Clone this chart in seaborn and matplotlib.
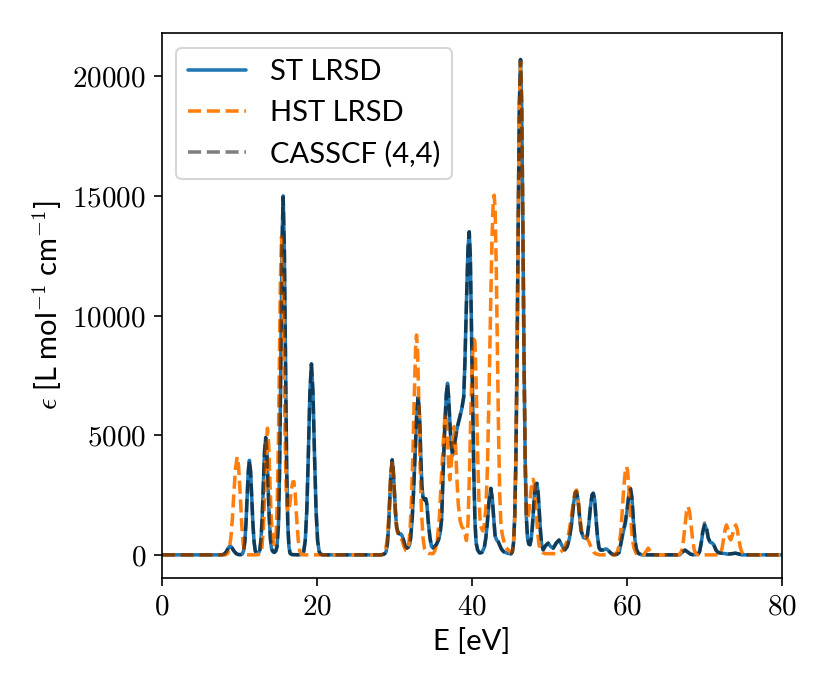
import matplotlib
matplotlib.use("Agg")
import matplotlib.pyplot as plt
from matplotlib.ticker import FuncFormatter
import seaborn as sns

# (E [eV], epsilon)
st_points = [
    (0, 0), (7.6, 0), (8.0, 20), (8.3, 120), (8.6, 300), (8.8, 370), (9.0, 320), (9.3, 160), (9.6, 50), (9.9, 10), (10.2, 10),
    (10.4, 43), (10.55, 174), (10.7, 533), (10.85, 1284), (11.0, 2398), (11.15, 3484), (11.3, 3950), (11.45, 3484), (11.6, 2398),
    (11.75, 1284), (11.9, 533), (12.05, 174), (12.2, 70), (12.35, 50),
    (12.5, 80), (12.65, 216), (12.8, 661), (12.95, 1593), (13.1, 2975), (13.25, 4322), (13.4, 4900), (13.55, 4322), (13.7, 2975),
    (13.85, 1600), (14.0, 700), (14.15, 260), (14.3, 150),
    (14.5, 100), (14.7, 160), (14.85, 330), (15.05, 1280), (15.2, 3740), (15.35, 8090), (15.5, 12860), (15.65, 15000), (15.8, 12860),
    (15.95, 8090), (16.1, 3740), (16.25, 1280), (16.4, 320), (16.55, 60), (16.8, 10),
    (17.8, 0), (18.1, 24), (18.3, 136), (18.5, 583), (18.7, 1835), (18.9, 4150), (19.1, 6775), (19.3, 7980), (19.5, 6775), (19.7, 4150),
    (19.9, 1835), (20.1, 583), (20.3, 136), (20.5, 24), (20.8, 0),
    (28.3, 0), (28.6, 20), (28.8, 60), (28.95, 150), (29.1, 470), (29.25, 1150), (29.4, 2200), (29.55, 3350), (29.72, 3970), (29.85, 3600),
    (30.0, 2700), (30.15, 1750), (30.3, 1150), (30.5, 900), (30.7, 880), (30.85, 870), (31.0, 800), (31.2, 600), (31.4, 370), (31.6, 280), (31.8, 320),
    (31.95, 400), (32.1, 700), (32.3, 1500), (32.5, 2800), (32.7, 4400), (32.9, 6000), (33.08, 6610), (33.25, 5800), (33.4, 4200), (33.55, 2900),
    (33.7, 2400), (33.9, 2300), (34.05, 2350), (34.2, 2100), (34.4, 1300), (34.6, 700), (34.8, 350), (35.0, 290),
    (35.2, 350), (35.4, 420), (35.7, 630), (35.9, 900), (36.1, 1500), (36.3, 3500), (36.5, 5300), (36.7, 6700), (36.86, 7170), (37.0, 6600),
    (37.2, 5300), (37.35, 4500), (37.5, 4150), (37.7, 4500), (37.9, 4950), (38.1, 5300), (38.4, 5700), (38.7, 6100), (38.95, 6600), (39.1, 8000),
    (39.3, 10500), (39.5, 12800), (39.66, 13500), (39.8, 12500), (39.95, 9500), (40.1, 6500), (40.25, 3500), (40.4, 1400), (40.55, 500), (40.75, 200), (41.0, 80),
    (41.3, 100), (41.6, 300), (41.8, 700), (42.0, 1350), (42.2, 2200), (42.45, 2780), (42.65, 2300), (42.85, 1400), (43.0, 800), (43.2, 620),
    (43.4, 550), (43.6, 400), (43.8, 250), (44.1, 130), (44.5, 80),
    (44.8, 50), (45.08, 50), (45.23, 125), (45.38, 500), (45.53, 1580), (45.68, 3970), (45.83, 8220), (45.98, 13770), (46.13, 18760), (46.28, 20700),
    (46.43, 18760), (46.58, 13770), (46.73, 8220), (46.88, 3970), (47.03, 1600), (47.18, 700), (47.35, 450), (47.5, 420),
    (47.65, 650), (47.8, 1150), (47.95, 1900), (48.1, 2600), (48.25, 2950), (48.4, 2990), (48.55, 2600), (48.7, 1800), (48.85, 1000), (49.0, 450), (49.2, 210),
    (49.5, 380), (49.85, 490), (50.15, 350), (50.5, 280), (50.9, 500), (51.25, 620), (51.6, 400), (52.0, 210),
    (52.3, 350), (52.6, 700), (52.9, 1400), (53.15, 2200), (53.35, 2600), (53.5, 2645), (53.7, 2300), (53.9, 1600), (54.1, 1000), (54.4, 720), (54.7, 700),
    (54.9, 800), (55.1, 1300), (55.3, 2000), (55.5, 2500), (55.66, 2575), (55.85, 2300), (56.0, 1600), (56.2, 800), (56.4, 300), (56.6, 200),
    (56.9, 200), (57.2, 240), (57.4, 240), (57.7, 150), (58.0, 50), (58.3, 10), (58.7, 20),
    (59.0, 100), (59.2, 400), (59.5, 900), (59.8, 1300), (60.05, 1900), (60.25, 2500), (60.47, 2780), (60.65, 2400), (60.85, 1400), (61.05, 600),
    (61.25, 210), (61.5, 60), (61.9, 0),
    (66.8, 0), (67.2, 120), (67.5, 200), (67.8, 130), (68.2, 30), (68.6, 0),
    (69.2, 20), (69.4, 150), (69.6, 500), (69.8, 950), (70.06, 1250), (70.3, 1050), (70.5, 700), (70.75, 520), (71.0, 500), (71.2, 430),
    (71.5, 200), (71.8, 90), (72.0, 80), (72.5, 60), (73.0, 30), (73.6, 50), (74.0, 70), (74.4, 40), (74.8, 0), (80, 0),
]

hst_points = [
    (0, 0), (8.2, 0), (8.5, 60), (8.7, 250), (8.9, 700), (9.1, 1500), (9.3, 2600), (9.5, 3600), (9.72, 4100), (9.9, 3700), (10.1, 2600),
    (10.3, 1300), (10.5, 450), (10.7, 120), (10.9, 20), (11.2, 0), (12.3, 0),
    (12.7, 45), (12.9, 270), (13.1, 1100), (13.3, 2900), (13.45, 4400), (13.63, 5290), (13.8, 4500), (13.95, 3000), (14.1, 1600), (14.3, 700),
    (14.45, 450), (14.58, 420),
    (14.75, 900), (14.9, 2300), (15.05, 5000), (15.2, 8800), (15.3, 11500), (15.44, 13290), (15.6, 11800), (15.75, 8500), (15.9, 5000),
    (16.05, 2700), (16.2, 1900), (16.35, 1800), (16.5, 2100), (16.7, 2700), (16.9, 3050), (17.03, 3060), (17.2, 2600), (17.4, 1500),
    (17.6, 600), (17.8, 150), (18.0, 20), (18.3, 0),
    (28.3, 0), (28.7, 60), (28.9, 250), (29.1, 700), (29.3, 1700), (29.5, 3100), (29.72, 3950), (29.9, 3300), (30.1, 2000), (30.3, 1100),
    (30.5, 850), (30.7, 800), (30.9, 700), (31.1, 500), (31.3, 300), (31.5, 180), (31.66, 170),
    (31.8, 300), (32.0, 900), (32.2, 2200), (32.4, 4300), (32.6, 7000), (32.75, 8700), (32.86, 9185), (33.0, 8500), (33.15, 6500), (33.3, 4000),
    (33.5, 1800), (33.7, 700), (33.9, 250), (34.1, 100), (34.37, 60), (35.0, 50),
    (35.2, 150), (35.5, 500), (35.8, 1500), (36.0, 2800), (36.3, 4600), (36.5, 5700), (36.65, 5900), (36.85, 5000), (37.0, 3800), (37.16, 3130),
    (37.35, 3800), (37.55, 5000), (37.72, 5360), (37.9, 4600), (38.1, 3000), (38.25, 2100), (38.5, 1400), (38.7, 1180), (38.9, 1100),
    (39.1, 900), (39.3, 600), (39.5, 1300), (39.7, 3500), (39.9, 6400), (40.1, 8400), (40.3, 9000), (40.4, 8900), (40.55, 7200), (40.75, 4200),
    (40.9, 2400), (41.05, 1500), (41.2, 1150), (41.4, 1000), (41.6, 1250),
    (41.8, 1900), (42.0, 3500), (42.2, 6500), (42.4, 10000), (42.6, 13200), (42.75, 14700), (42.88, 15030), (43.0, 14500), (43.15, 12000),
    (43.3, 8500), (43.45, 5000), (43.6, 2500), (43.75, 1300), (43.9, 900), (44.1, 600), (44.4, 300), (44.69, 200),
    (44.9, 150), (45.08, 100), (45.23, 150), (45.38, 500), (45.53, 1580), (45.68, 3970), (45.83, 8220), (45.98, 13770), (46.13, 18760),
    (46.28, 20600), (46.43, 18760), (46.58, 13770), (46.73, 8220), (46.88, 3970),
    (47.03, 1800), (47.2, 1500), (47.4, 1900), (47.6, 2600), (47.8, 3100), (47.91, 3160), (48.05, 3000), (48.25, 2200), (48.45, 1100),
    (48.65, 450), (48.85, 200), (49.1, 100), (49.5, 50), (51.0, 50), (51.8, 200),
    (52.2, 500), (52.5, 900), (52.8, 1500), (53.1, 2200), (53.3, 2600), (53.5, 2710), (53.7, 2350), (53.9, 1700), (54.1, 1100), (54.35, 800),
    (54.6, 770), (54.85, 700), (55.1, 550), (55.4, 300), (55.7, 120), (56.0, 40), (56.5, 0), (58.5, 0),
    (58.8, 150), (59.0, 400), (59.2, 900), (59.4, 1800), (59.6, 2800), (59.8, 3500), (59.96, 3690), (60.1, 3500), (60.3, 2600), (60.5, 1500),
    (60.7, 700), (60.9, 300), (61.2, 60), (61.6, 0), (62.2, 0), (62.5, 150), (62.75, 280), (63.0, 150), (63.3, 20), (63.6, 0), (66.6, 0),
    (66.9, 50), (67.1, 200), (67.3, 600), (67.5, 1200), (67.7, 1800), (67.9, 2020), (68.1, 1800), (68.3, 1200), (68.5, 600), (68.7, 200),
    (68.9, 60), (69.2, 0), (71.9, 0),
    (72.1, 80), (72.3, 300), (72.5, 700), (72.7, 1100), (72.86, 1250), (73.05, 1050), (73.25, 700), (73.4, 626), (73.6, 800), (73.85, 1150),
    (74.06, 1250), (74.25, 1050), (74.45, 650), (74.65, 300), (74.85, 100), (75.1, 20), (75.4, 0), (80, 0),
]

cas_points = [
    (0, 0), (7.6, 0), (8.0, 20), (8.3, 120), (8.6, 300), (8.8, 380), (9.0, 320), (9.3, 160), (9.6, 50), (9.9, 10), (10.2, 10),
    (10.4, 43), (10.55, 174), (10.7, 533), (10.85, 1284), (11.0, 2398), (11.15, 3484), (11.3, 3950), (11.45, 3484), (11.6, 2398),
    (11.75, 1284), (11.9, 533), (12.05, 174), (12.2, 70), (12.35, 50),
    (12.5, 80), (12.65, 216), (12.8, 661), (12.95, 1593), (13.1, 2975), (13.25, 4322), (13.4, 4900), (13.55, 4322), (13.7, 2975),
    (13.85, 1600), (14.0, 700), (14.15, 260), (14.3, 150),
    (14.5, 100), (14.7, 160), (14.85, 330), (15.05, 1280), (15.2, 3740), (15.35, 8090), (15.5, 12860), (15.65, 14950), (15.8, 12860),
    (15.95, 8090), (16.1, 3740), (16.25, 1280), (16.4, 320), (16.55, 60), (16.8, 10),
    (17.8, 0), (18.1, 24), (18.3, 136), (18.5, 583), (18.7, 1835), (18.9, 4150), (19.1, 6775), (19.3, 7980), (19.5, 6775), (19.7, 4150),
    (19.9, 1835), (20.1, 583), (20.3, 136), (20.5, 24), (20.8, 0),
    (28.3, 0), (28.6, 20), (28.8, 60), (28.95, 150), (29.1, 470), (29.25, 1150), (29.4, 2200), (29.55, 3350), (29.72, 3970), (29.85, 3600),
    (30.0, 2700), (30.15, 1750), (30.3, 1150), (30.5, 900), (30.7, 880), (30.85, 870), (31.0, 800), (31.2, 600), (31.4, 370), (31.6, 280), (31.8, 320),
    (31.95, 400), (32.1, 700), (32.3, 1500), (32.5, 2800), (32.7, 4400), (32.9, 6000), (33.08, 6610), (33.25, 5800), (33.4, 4200), (33.55, 2900),
    (33.7, 2400), (33.9, 2300), (34.05, 2350), (34.2, 2100), (34.4, 1300), (34.6, 700), (34.8, 350), (35.0, 290),
    (35.2, 350), (35.4, 420), (35.7, 630), (35.9, 900), (36.1, 1500), (36.3, 3500), (36.5, 5300), (36.7, 6700), (36.86, 7170), (37.0, 6600),
    (37.2, 5300), (37.35, 4600), (37.5, 4300), (37.7, 4500), (37.9, 4850), (38.1, 5300), (38.4, 5700), (38.7, 6100), (38.95, 6600), (39.1, 8000),
    (39.3, 10500), (39.5, 12800), (39.66, 13500), (39.8, 12500), (39.95, 9500), (40.1, 6500), (40.25, 3500), (40.4, 1400), (40.55, 500), (40.75, 200), (41.0, 80),
    (41.3, 100), (41.6, 300), (41.8, 700), (42.0, 1350), (42.2, 2200), (42.45, 2780), (42.65, 2300), (42.85, 1400), (43.0, 800), (43.2, 620),
    (43.4, 550), (43.6, 400), (43.8, 250), (44.1, 130), (44.5, 80),
    (44.8, 50), (45.08, 50), (45.23, 125), (45.38, 500), (45.53, 1580), (45.68, 3970), (45.83, 8220), (45.98, 13770), (46.13, 18760), (46.28, 20700),
    (46.43, 18760), (46.58, 13770), (46.73, 8220), (46.88, 3970), (47.03, 1600), (47.18, 700), (47.35, 450), (47.5, 420),
    (47.65, 650), (47.8, 1150), (47.95, 1900), (48.1, 2600), (48.25, 2950), (48.4, 2990), (48.55, 2600), (48.7, 1800), (48.85, 1000), (49.0, 450), (49.2, 210),
    (49.5, 380), (49.85, 490), (50.15, 350), (50.5, 280), (50.9, 500), (51.25, 620), (51.6, 400), (52.0, 210),
    (52.3, 350), (52.6, 700), (52.9, 1400), (53.15, 2200), (53.35, 2600), (53.5, 2645), (53.7, 2300), (53.9, 1600), (54.1, 1000), (54.4, 720), (54.7, 700),
    (54.9, 800), (55.1, 1300), (55.3, 2000), (55.5, 2500), (55.66, 2575), (55.85, 2300), (56.0, 1600), (56.2, 800), (56.4, 300), (56.6, 200),
    (56.9, 200), (57.2, 240), (57.4, 240), (57.7, 150), (58.0, 50), (58.3, 10), (58.7, 20),
    (59.0, 100), (59.2, 450), (59.5, 1000), (59.8, 1400), (60.05, 1950), (60.25, 2500), (60.47, 2750), (60.65, 2400), (60.85, 1400), (61.05, 600),
    (61.25, 210), (61.5, 60), (61.9, 0),
    (66.8, 0), (67.2, 120), (67.5, 200), (67.8, 130), (68.2, 30), (68.6, 0),
    (69.2, 20), (69.4, 150), (69.6, 520), (69.8, 1000), (70.03, 1330), (70.3, 1100), (70.5, 720), (70.75, 530), (71.0, 500), (71.2, 430),
    (71.5, 200), (71.8, 90), (72.0, 80), (72.5, 60), (73.0, 30), (73.6, 50), (74.0, 70), (74.4, 40), (74.8, 0), (80, 0),
]

labels = ["ST LRSD", "HST LRSD", "CASSCF (4,4)"]
x_ticks = [0, 20, 40, 60, 80]
y_ticks = [0, 5000, 10000, 15000, 20000]

sns.set_style("ticks")
plt.rcParams["font.family"] = ["Lato", "DejaVu Sans"]
plt.rcParams["mathtext.fontset"] = "cm"
plt.rcParams["font.size"] = 14
for key in ["text.color", "axes.labelcolor", "xtick.color", "ytick.color", "axes.edgecolor"]:
    plt.rcParams[key] = "black"

fig = plt.figure(figsize=(830 / 150, 692 / 150), dpi=150)
ax = fig.add_axes([0.195, 0.165, 0.747, 0.787])

st_e, st_eps = zip(*st_points)
hst_e, hst_eps = zip(*hst_points)
cas_e, cas_eps = zip(*cas_points)

sns.lineplot(x=list(st_e), y=list(st_eps), ax=ax, color="#1f77b4", lw=1.7,
             estimator=None, label=labels[0])
sns.lineplot(x=list(hst_e), y=list(hst_eps), ax=ax, color="#ff7f0e", lw=1.7,
             linestyle="--", estimator=None, label=labels[1])
sns.lineplot(x=list(cas_e), y=list(cas_eps), ax=ax, color="k", alpha=0.5, lw=1.7,
             linestyle="--", estimator=None, label=labels[2])

ax.set_xlim(0, 80)
ax.set_ylim(-960, 21800)
ax.set_xticks(x_ticks)
ax.set_yticks(y_ticks)
fmt = FuncFormatter(lambda v, p: "$%d$" % v)
ax.xaxis.set_major_formatter(fmt)
ax.yaxis.set_major_formatter(fmt)
ax.tick_params(labelsize=14, direction="out", length=4)
ax.set_xlabel("E [eV]", fontsize=14)
ax.set_ylabel(r"$\epsilon$ [L mol$^{-1}$ cm$^{-1}$]", fontsize=14)
ax.legend(loc="upper left", fontsize=14)

fig.savefig("out.png", dpi=150)
